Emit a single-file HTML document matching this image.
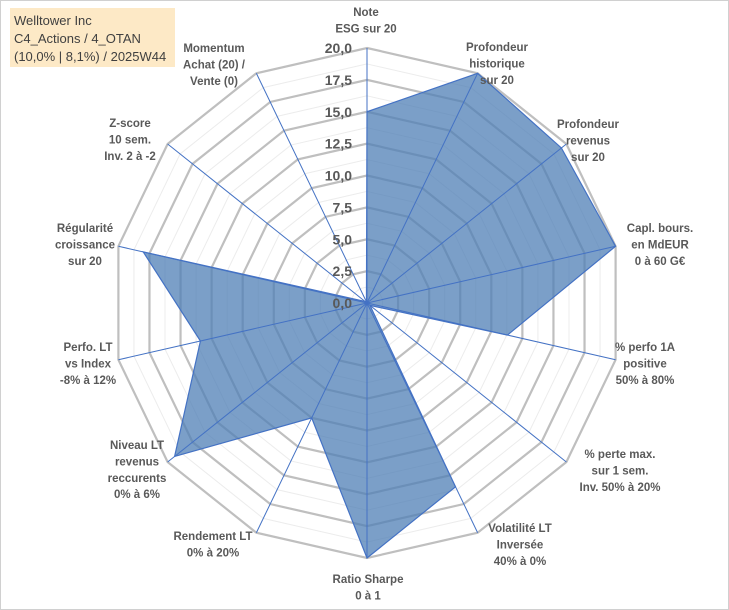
<!DOCTYPE html>
<html><head><meta charset="utf-8"><style>
html,body{margin:0;padding:0;background:#fff;}
#wrap{position:relative;width:729px;height:610px;overflow:hidden;}
svg{position:absolute;left:0;top:0;font-family:"Liberation Sans",sans-serif;}
</style></head><body>
<div id="wrap">
<svg id="chart" width="729" height="610">
<rect x="0.5" y="0.5" width="728" height="609" fill="#fff" stroke="#d0d0d0"/>
<rect x="10" y="8" width="165" height="59" fill="#fde9c6"/>
<text font-size="13" fill="#404040"><tspan x="14" y="25">Welltower Inc</tspan><tspan x="14" y="43">C4_Actions / 4_OTAN</tspan><tspan x="14" y="61">(10,0% | 8,1%) / 2025W44</tspan></text>
<g id="grid"></g><g id="series"></g><g id="axes"></g><g id="ticks"></g><g id="labels"></g>
</svg></div>
<script>
const categories=[
["Note","ESG sur 20"],["Profondeur","historique","sur 20"],["Profondeur","revenus","sur 20"],
["Capl. bours.","en MdEUR","0 à 60 G€"],["% perfo 1A","positive","50% à 80%"],["% perte max.","sur 1 sem.","Inv. 50% à 20%"],
["Volatilité LT","Inversée","40% à 0%"],["Ratio Sharpe","0 à 1"],["Rendement LT","0% à 20%"],
["Niveau LT","revenus","reccurents","0% à 6%"],["Perfo. LT","vs Index","-8% à 12%"],["Régularité","croissance","sur 20"],
["Z-score","10 sem.","Inv. 2 à -2"],["Momentum","Achat (20) /","Vente (0)"]];
const values=[15,20,19.5,20,11.3,0.3,16,20,10,19.3,13.4,18,0.2,0.1];
const tickLabels=["0,0","2,5","5,0","7,5","10,0","12,5","15,0","17,5","20,0"];
const maxVal=20;
const labelPos=[[366,12],[497,47],[588,124],[660,228],[645,347],[620,454],[520,528],[368,579],[213,536],[137,445],[88,347],[85,228],[130,123],[214,48]];
const cx=367,cy=303,R=255,N=categories.length;
const NS="http://www.w3.org/2000/svg";
function rScale(v){return v/maxVal*R;}
function pt(i,v){const a=i*2*Math.PI/N;const r=rScale(v);return [cx+r*Math.sin(a),cy-r*Math.cos(a)];}
function mk(tag,attrs,parent){const e=document.createElementNS(NS,tag);for(const k in attrs)e.setAttribute(k,attrs[k]);parent.appendChild(e);return e;}
const grid=document.getElementById('grid');
for(let s=1;s<=16;s++){
 const v=s*maxVal/16;const major=s%2===0;
 const p=[];for(let i=0;i<N;i++)p.push(pt(i,v).join(','));
 const e=mk('polygon',{points:p.join(' '),fill:'none',stroke:major?'#bfbfbf':'#ececec','stroke-width':major?2.2:1},grid);
 
 
}
const ser=document.getElementById('series');
const sp=values.map((v,i)=>pt(i,v).join(',')).join(' ');
const poly=mk('polygon',{points:sp,fill:'#4f7fb5','fill-opacity':0.75,stroke:'#4472c4','stroke-width':1.2},ser);


const ax=document.getElementById('axes');
for(let i=0;i<N;i++){const [x,y]=pt(i,maxVal);
 const l=mk('line',{x1:cx,y1:cy,x2:x,y2:y,stroke:'#4472c4','stroke-width':1},ax);
 
 
}
const tk=document.getElementById('ticks');
tickLabels.forEach((t,k)=>{const v=k*maxVal/(tickLabels.length-1);
 const e=mk('text',{x:352,y:cy-rScale(v)+5,'text-anchor':'end','font-size':14,'font-weight':'bold',fill:'#595959'},tk);
 e.textContent=t;
 
 
});
const lb=document.getElementById('labels');
categories.forEach((c,i)=>{const [x,y]=labelPos[i];
 const t=mk('text',{'text-anchor':'middle','font-size':11.5,'font-weight':'bold',fill:'#595959'},lb);
 
 
 c.forEach((line,j)=>{const s=mk('tspan',{x:x,y:y+4+j*16.4},t);s.textContent=line;});
});
</script>
</body></html>
